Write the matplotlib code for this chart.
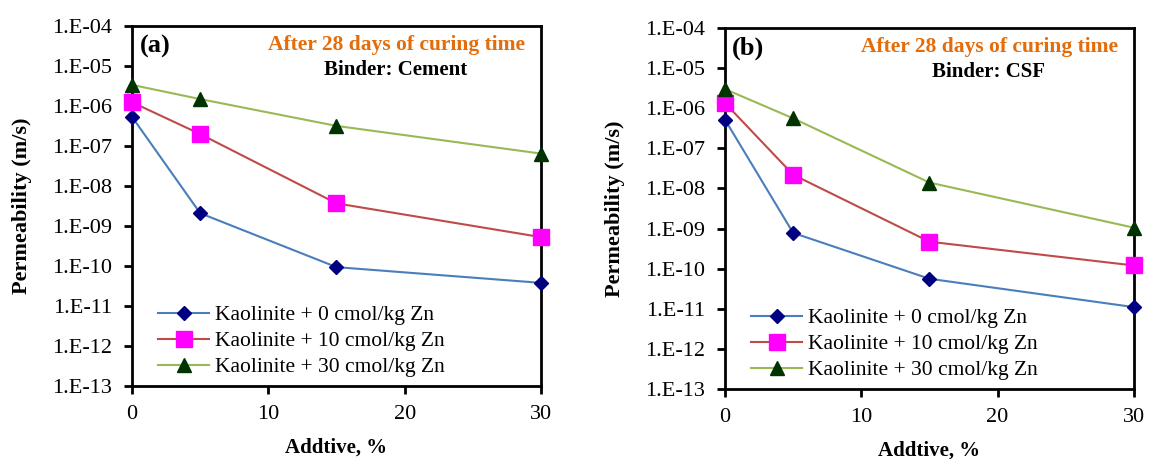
import math
import matplotlib
matplotlib.use("Agg")
import matplotlib.pyplot as plt
from matplotlib.ticker import FuncFormatter, NullLocator

plt.rcParams['font.family'] = ['Liberation Serif', 'DejaVu Serif']

additive = [0, 5, 15, 30]
labels = ["Kaolinite + 0 cmol/kg Zn", "Kaolinite + 10 cmol/kg Zn", "Kaolinite + 30 cmol/kg Zn"]

# Binder: Cement
cement_0 = [5.4e-7, 2.1e-9, 9.4e-11, 3.8e-11]
cement_10 = [1.25e-6, 2.0e-7, 3.7e-9, 5.3e-10]
cement_30 = [3.4e-6, 1.5e-6, 3.2e-7, 6.5e-8]

# Binder: CSF
csf_0 = [5.2e-7, 7.8e-10, 5.6e-11, 1.1e-11]
csf_10 = [1.35e-6, 2.2e-8, 4.7e-10, 1.2e-10]
csf_30 = [3.0e-6, 5.6e-7, 1.4e-8, 1.05e-9]

line_colors = ["#4a7ebb", "#be4b48", "#98b954"]
marker_colors = ["#000080", "#ff00ff", "#003300"]
markers = ["D", "s", "^"]
marker_sizes = [7.5, 11, 10]

fig = plt.figure(figsize=(11.52, 4.59), dpi=100)
ax1 = fig.add_axes([0.1146, 0.159, 0.355, 0.784])
ax2 = fig.add_axes([0.6293, 0.1525, 0.355, 0.7865])


def decade_label(v, p):
    return "1.E-%02d" % round(-math.log10(v))


def draw(ax, series, tag, binder):
    for i, s in enumerate(series):
        ax.plot(additive, s, color=line_colors[i], lw=1.5, marker=markers[i],
                ms=marker_sizes[i], mfc=marker_colors[i], mec=marker_colors[i],
                label=labels[i], clip_on=False, zorder=3)
    ax.set_yscale("log")
    ax.set_ylim(1e-13, 1e-4)
    ax.set_xlim(0, 30)
    ax.set_yticks([10.0 ** -k for k in range(4, 14)])
    ax.yaxis.set_minor_locator(NullLocator())
    ax.yaxis.set_major_formatter(FuncFormatter(decade_label))
    ax.set_xticks([0, 10, 20, 30])
    for sp in ax.spines.values():
        sp.set_linewidth(2)
    ax.tick_params(axis="both", direction="out", width=2, length=5.5, labelsize=16)
    ax.tick_params(axis="y", pad=9)
    ax.tick_params(axis="x", pad=8)
    ax.set_xlabel("Addtive, %", fontsize=15, fontweight="bold")
    ax.xaxis.set_label_coords(0.5, -0.143)
    ax.set_ylabel("Permeability (m/s)", fontsize=16, fontweight="bold")
    ax.yaxis.set_label_coords(-0.245, 0.5)
    ax.text(0.018, 0.945, tag, transform=ax.transAxes, fontsize=19, fontweight="bold", va="center")
    ax.text(0.961, 0.947, "After 28 days of curing time", transform=ax.transAxes,
            fontsize=15.5, fontweight="bold", color="#e46c0a", ha="right", va="center")
    ax.text(0.645, 0.878, "Binder: " + binder, transform=ax.transAxes,
            fontsize=15, fontweight="bold", ha="center", va="center")
    ax.legend(loc="lower left", bbox_to_anchor=(0.042, 0.0), frameon=False, fontsize=15.5,
              handlelength=2.4, handletextpad=0.25, labelspacing=0.28, borderaxespad=0.0)


draw(ax1, [cement_0, cement_10, cement_30], "(a)", "Cement")
draw(ax2, [csf_0, csf_10, csf_30], "(b)", "CSF")

plt.savefig("out.png", dpi=100)
